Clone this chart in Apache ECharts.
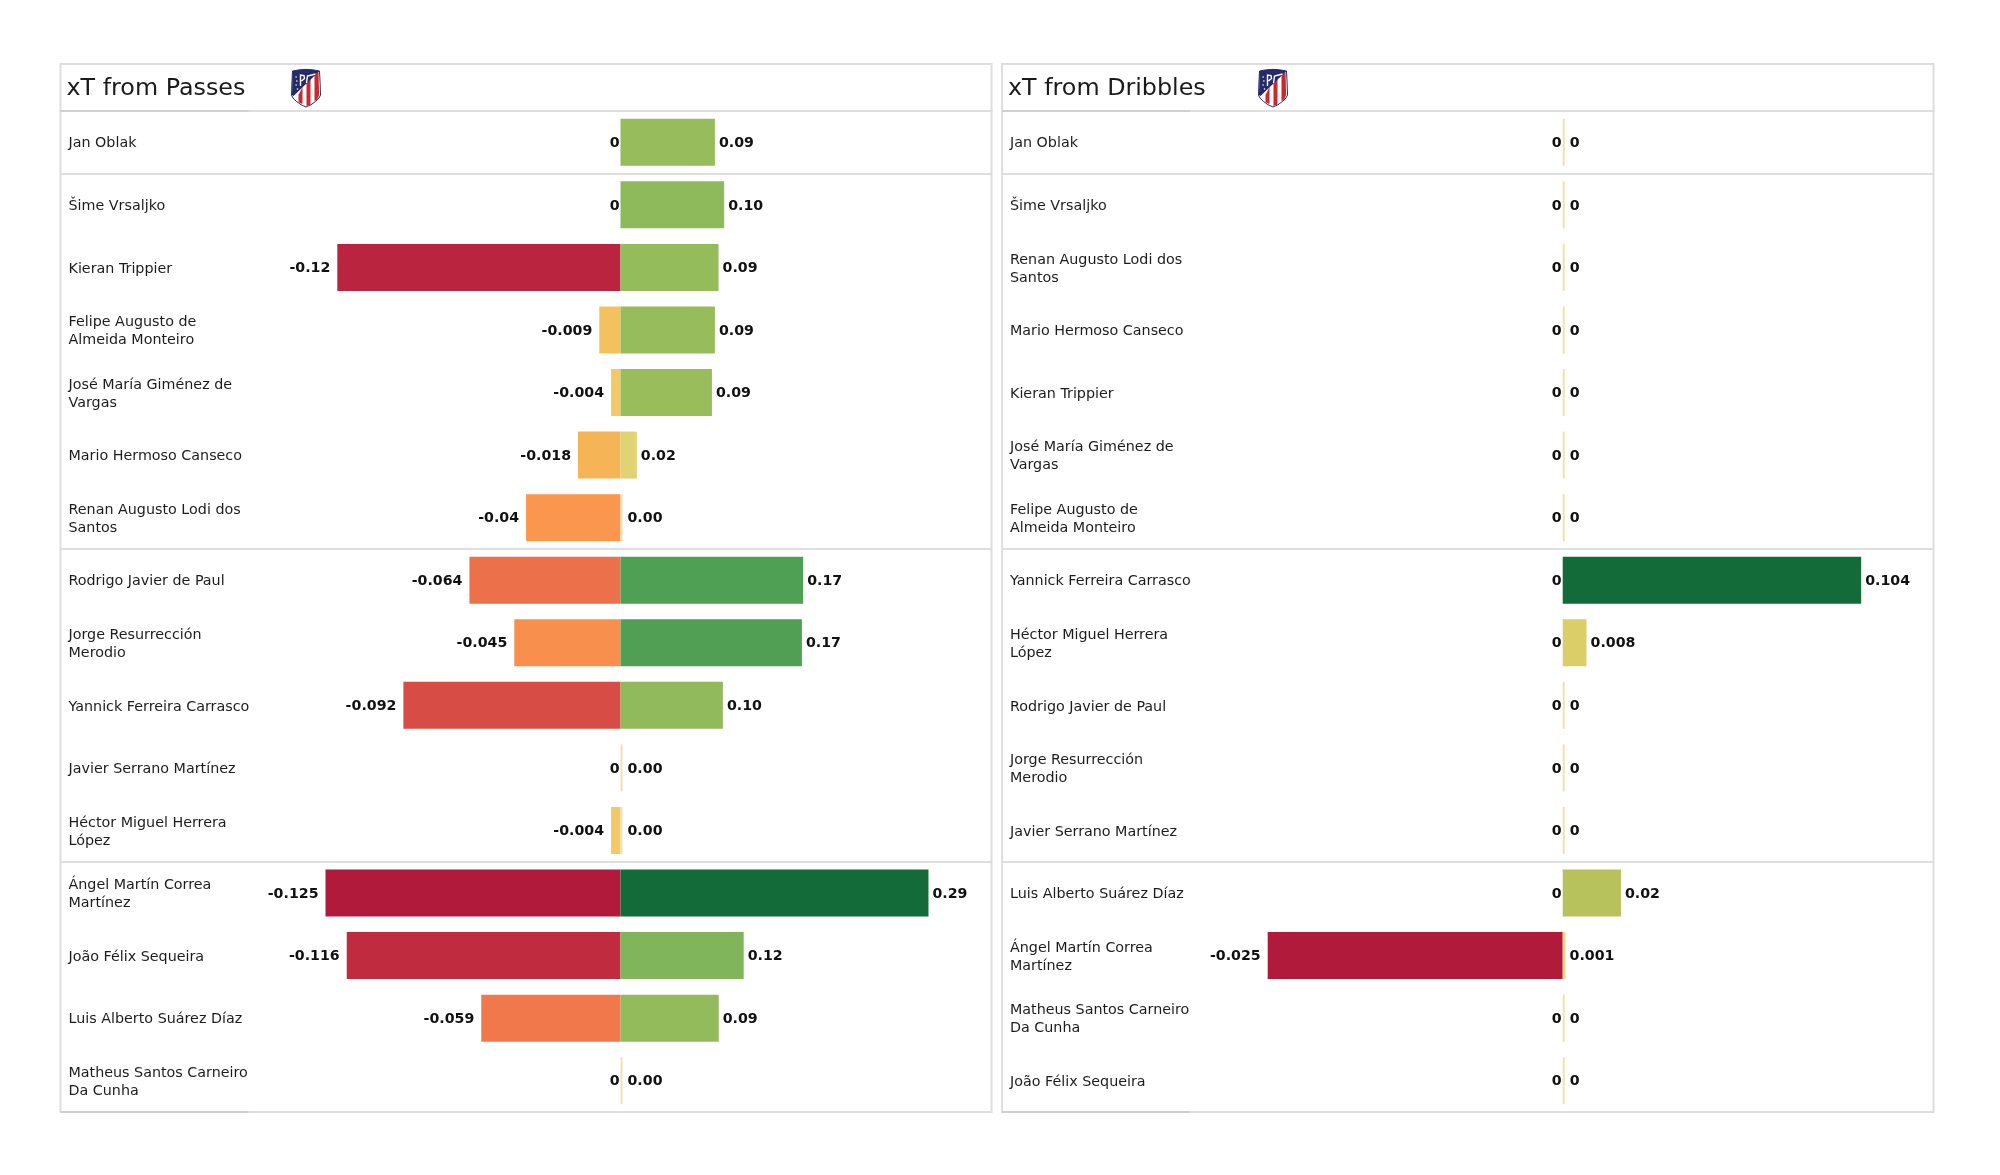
<!DOCTYPE html>
<html>
<head>
<meta charset="utf-8">
<style>html,body{margin:0;padding:0;background:#fff}#chart{width:2000px;height:1175px}</style>
<script src="https://cdn.jsdelivr.net/npm/echarts@6/dist/echarts.min.js"></script>
</head>
<body>
<div id="chart"></div>
<script>
// ---------- data ----------
const passPlayers = ["Jan Oblak","Šime Vrsaljko","Kieran Trippier","Felipe Augusto de\nAlmeida Monteiro","José María Giménez de\nVargas","Mario Hermoso Canseco","Renan Augusto Lodi dos\nSantos","Rodrigo Javier de Paul","Jorge Resurrección\nMerodio","Yannick Ferreira Carrasco","Javier Serrano Martínez","Héctor Miguel Herrera\nLópez","Ángel Martín Correa\nMartínez","João Félix Sequeira","Luis Alberto Suárez Díaz","Matheus Santos Carneiro\nDa Cunha"];
const passNegative = [0,0,-0.12,-0.009,-0.004,-0.018,-0.04,-0.064,-0.045,-0.092,0,-0.004,-0.125,-0.116,-0.059,0];
const passPositive = [0.0889,0.0976,0.0923,0.0889,0.0861,0.0154,0.0004,0.172,0.1708,0.0964,0,0,0.29,0.116,0.0925,0];
const dribblePlayers = ["Jan Oblak","Šime Vrsaljko","Renan Augusto Lodi dos\nSantos","Mario Hermoso Canseco","Kieran Trippier","José María Giménez de\nVargas","Felipe Augusto de\nAlmeida Monteiro","Yannick Ferreira Carrasco","Héctor Miguel Herrera\nLópez","Rodrigo Javier de Paul","Jorge Resurrección\nMerodio","Javier Serrano Martínez","Luis Alberto Suárez Díaz","Ángel Martín Correa\nMartínez","Matheus Santos Carneiro\nDa Cunha","João Félix Sequeira"];
const dribbleNegative = [0,0,0,0,0,0,0,0,0,0,0,0,0,-0.025,0,0];
const dribblePositive = [0,0,0,0,0,0,0,0.104,0.0083,0,0,0,0.0203,0.001,0,0];
const groupStartRows = [1,7,12];
const panelTitles = ["xT from Passes","xT from Dribbles"];

// ---------- colour ramps ----------
const negRamp = ['#F2CF6B','#F4BB57','#F7AA52','#FB9A4F','#F6874C','#ED724A','#E56247','#DB5245','#D14143','#C53240','#B21A3C'];
const posRamp = ['#EEDB86','#D6CB62','#B6C25C','#98BD5B','#80B55B','#66AA58','#4D9E55','#3C9250','#2C844A','#1E7841','#126B38'];
const nearZeroColor = '#EEE3AE';

// ---------- layout ----------
const panels = [
  {left:60.5,  width:931, zero:560,   negPx:2360,  posPx:1062, crestX:291.5,  title:panelTitles[0], names:passPlayers,   neg:passNegative,   pos:passPositive,   posFmt:v=>v.toFixed(2)},
  {left:1002,  width:931.5, zero:560.7, negPx:11800, posPx:2870, crestX:1258.5, title:panelTitles[1], names:dribblePlayers, neg:dribbleNegative, pos:dribblePositive, posFmt:v=>String(parseFloat(v.toFixed(3)))}
];
const gridTop = 111, gridH = 1001, headerTop = 64, nameShift = 1.5;
const FONT = '"DejaVu Sans"';
const borderCol = '#dedede';

const shield = [[1,2],[8,0.8],[14.5,0.4],[21,0.8],[28,2],[28.6,14],[29,26],[27.5,29],[24,32.5],[19.5,35.7],[14.5,38],[9.5,35.7],[5,32.5],[1.5,29],[0,26],[0.4,14]];
const crestChildren = () => [
  {type:'polygon',z:6,shape:{points:shield},style:{fill:'#fff',stroke:'#2b2f6b',lineWidth:1}},
  {type:'polygon',z:6,shape:{points:[[7,26],[11,18],[11,35],[9,34.3],[7,33]]},style:{fill:'#c8282e'}},
  {type:'polygon',z:6,shape:{points:[[15,13],[19,9],[19,35.5],[17,36.5],[15,37]]},style:{fill:'#c8282e'}},
  {type:'polygon',z:6,shape:{points:[[23,6],[27,3],[27.6,26],[26,30],[23,32.5]]},style:{fill:'#c8282e'}},
  {type:'polygon',z:7,shape:{points:[[1,2],[8,0.8],[14.5,0.4],[21,0.8],[28,2],[2,27],[0.5,26]]},style:{fill:'#252a69'}},
  {type:'polyline',z:8,shape:{points:[[9,17],[9,6],[12.5,6.5],[13,9.5],[10,12]]},style:{fill:'none',stroke:'#fff',lineWidth:1.4}},
  {type:'polyline',z:8,shape:{points:[[15,14],[16,7],[24,5]]},style:{fill:'none',stroke:'#fff',lineWidth:1.4}},
  {type:'circle',z:8,shape:{cx:4.6,cy:8,r:0.8},style:{fill:'#fff'}},
  {type:'circle',z:8,shape:{cx:5.4,cy:12,r:0.8},style:{fill:'#fff'}},
  {type:'circle',z:8,shape:{cx:4.6,cy:16,r:0.8},style:{fill:'#fff'}},
  {type:'circle',z:8,shape:{cx:6,cy:20,r:0.8},style:{fill:'#fff'}}
];

const grid=[],xAxis=[],yAxis=[],series=[],graphic=[];
panels.forEach((p,i)=>{
  // bars grid (index i) and a companion grid (index i+2) that only carries the player-name labels
  grid[i]={left:p.left,top:gridTop,width:p.width,height:gridH,show:true,borderColor:borderCol,borderWidth:2,backgroundColor:'#fff'};
  grid[i+2]={left:p.left,top:gridTop+nameShift,width:p.width,height:gridH,show:false};
  xAxis.push({type:'value',gridIndex:i,show:false,min:-p.zero/p.negPx,max:(p.width-p.zero)/p.negPx,splitLine:{show:false}});
  xAxis.push({type:'value',gridIndex:i,show:false,min:-p.zero/p.posPx,max:(p.width-p.zero)/p.posPx,splitLine:{show:false}});
  yAxis[i]={type:'category',gridIndex:i,inverse:true,data:p.names,
    axisLine:{show:false},axisTick:{show:false},axisLabel:{show:false},
    splitLine:{show:true,interval:(idx)=>groupStartRows.includes(idx),lineStyle:{color:borderCol,width:2}}};
  yAxis[i+2]={type:'category',gridIndex:i+2,inverse:true,data:p.names,z:6,
    axisLine:{show:false},axisTick:{show:false},splitLine:{show:false},
    axisLabel:{inside:true,margin:8,interval:0,color:'#1c1c1c',fontFamily:FONT,fontSize:14.3,lineHeight:18,align:'left'}};
  const maxNeg=Math.max(...p.neg.map(Math.abs))||1, maxPos=Math.max(...p.pos)||1;
  const lab={show:true,fontFamily:FONT,fontWeight:'bold',fontSize:14.2,color:'#111'};
  series.push({type:'bar',name:p.title+' negative',xAxisIndex:i*2,yAxisIndex:i,barWidth:47,barGap:'-100%',z:3,
    data:p.neg.map(v=>({value:v,
      itemStyle:{color:echarts.color.lerp(Math.abs(v)/maxNeg,negRamp)},
      label:{...lab,position:'left',offset:[0,1],distance:v===0?1:7,formatter:()=>String(parseFloat(v.toFixed(3)))}}))});
  series.push({type:'bar',name:p.title+' positive',xAxisIndex:i*2+1,yAxisIndex:i,barWidth:47,barGap:'-100%',barMinHeight:2,z:3,
    data:p.pos.map(v=>({value:v,
      itemStyle:{color:v/maxPos<0.005?nearZeroColor:echarts.color.lerp(v/maxPos,posRamp)},
      label:{...lab,position:'right',offset:[0,1],distance:v/maxPos<0.005?5:4,formatter:()=>p.posFmt(v)}}))});
  // header box
  graphic.push({type:'rect',shape:{x:p.left,y:headerTop,width:p.width,height:gridTop-headerTop},style:{fill:'#fff',stroke:borderCol,lineWidth:2},z:1});
  graphic.push({type:'line',shape:{x1:p.left,y1:gridTop,x2:p.left+188,y2:gridTop},style:{stroke:'#cfcfcf',lineWidth:2},z:5});
  graphic.push({type:'line',shape:{x1:p.left,y1:gridTop+gridH,x2:p.left+188,y2:gridTop+gridH},style:{stroke:'#cfcfcf',lineWidth:2},z:5});
  graphic.push({type:'text',x:p.left+6,y:(headerTop+gridTop)/2+1,z:6,style:{text:p.title,font:'23.8px '+FONT,fill:'#1a1a1a',verticalAlign:'middle'}});
  // club crest
  graphic.push({type:'group',x:p.crestX,y:69,z:6,children:crestChildren()});
});
// companion grids need an x axis too (indices 4 and 5)
panels.forEach((p,i)=>xAxis.push({type:'value',gridIndex:i+2,show:false,splitLine:{show:false}}));

const chart = echarts.init(document.getElementById('chart'),null,{renderer:'canvas'});
chart.setOption({animation:false,backgroundColor:'#fff',grid,xAxis,yAxis,series,graphic});
</script>
</body>
</html>
